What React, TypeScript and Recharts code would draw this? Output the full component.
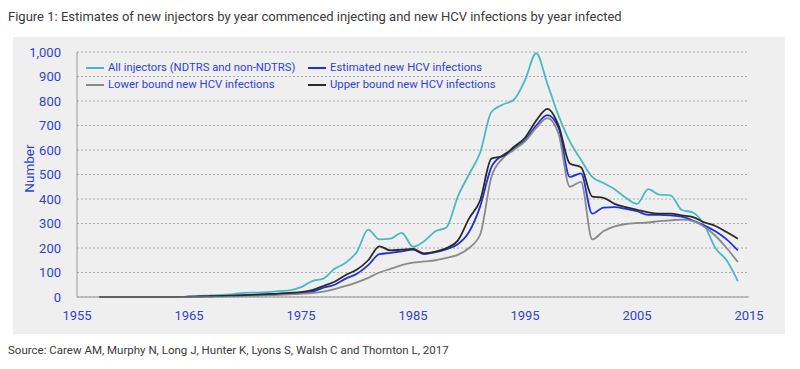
import React from 'react';
import { LineChart, Line, XAxis, YAxis, CartesianGrid, Legend } from 'recharts';

const years = [
  1957, 1958, 1959, 1960, 1961, 1962, 1963, 1964, 1965, 1966,
  1967, 1968, 1969, 1970, 1971, 1972, 1973, 1974, 1975, 1976,
  1977, 1978, 1979, 1980, 1981, 1982, 1983, 1984, 1985, 1986,
  1987, 1988, 1989, 1990, 1991, 1992, 1993, 1994, 1995, 1996,
  1997, 1998, 1999, 2000, 2001, 2002, 2003, 2004, 2005, 2006,
  2007, 2008, 2009, 2010, 2011, 2012, 2013, 2014,
];

const allInjectors = [
  0, 0, 0, 0, 0, 0, 0, 0, 1, 4,
  7, 9, 12, 17, 18, 20, 24, 27, 40, 65,
  75, 115, 140, 185, 275, 235, 238, 262, 205, 228,
  268, 285, 410, 500, 590, 755, 785, 805, 885, 995,
  870, 740, 635, 560, 490, 465, 440, 405, 380, 440,
  418, 415, 355, 345, 295, 200, 150, 65,
];

const estimated = [
  0, 0, 0, 0, 0, 0, 0, 0, 1, 2,
  3, 4, 5, 7, 9, 11, 13, 15, 18, 22,
  38, 50, 75, 95, 130, 175, 180, 186, 193, 175,
  183, 195, 215, 265, 370, 530, 578, 605, 640, 700,
  742, 690, 490, 505, 340, 365, 367, 360, 350, 335,
  335, 333, 328, 312, 292, 268, 235, 190,
];

const lowerBound = [
  0, 0, 0, 0, 0, 0, 0, 0, 0, 1,
  2, 2, 3, 4, 5, 7, 9, 11, 13, 16,
  22, 32, 45, 60, 78, 100, 115, 130, 140, 145,
  150, 160, 172, 200, 255, 490, 565, 600, 635, 690,
  730, 665, 450, 470, 235, 268, 288, 298, 302, 304,
  310, 313, 316, 310, 287, 250, 200, 143,
];

const upperBound = [
  0, 0, 0, 0, 0, 0, 0, 0, 1, 2,
  3, 4, 6, 8, 10, 12, 14, 17, 20, 28,
  45, 62, 90, 112, 150, 207, 190, 193, 196, 178,
  185, 200, 230, 320, 395, 565, 575, 612, 650, 720,
  768, 700, 545, 530, 410, 405, 380, 367, 356, 345,
  340, 340, 333, 326, 305, 290, 265, 238,
];

const xTicks = [1955, 1965, 1975, 1985, 1995, 2005, 2015];
const yTicks = [0, 100, 200, 300, 400, 500, 600, 700, 800, 900, 1000];

const data = years.map((year, i) => ({
  year,
  all: allInjectors[i],
  est: estimated[i],
  low: lowerBound[i],
  up: upperBound[i],
}));

const TEXT_BLUE = '#2f43d6';
const FONT = 'Roboto, "Noto Sans", sans-serif';

const series = [
  { key: 'all', name: 'All injectors (NDTRS and non-NDTRS)', color: '#4ab9c5' },
  { key: 'est', name: 'Estimated new HCV infections', color: '#1f30e0' },
  { key: 'low', name: 'Lower bound new HCV infections', color: '#8a8a8a' },
  { key: 'up', name: 'Upper bound new HCV infections', color: '#2a2a2a' },
];

// two-column legend, drawn in the same order as the original
const renderLegend = () => (
  <div style={{ display: 'grid', gridTemplateColumns: '222px 230px', rowGap: 3 }}>
    {series.map(s => (
      <div key={s.key} style={{ display: 'flex', alignItems: 'center', fontSize: 11.3, color: TEXT_BLUE, fontFamily: FONT, lineHeight: '14px', whiteSpace: 'nowrap' }}>
        <span style={{ display: 'inline-block', width: 18, height: 2, background: s.color, marginRight: 4 }} />
        {s.name}
      </div>
    ))}
  </div>
);

// rotated axis title, centred a little above the middle of the plot
const renderYLabel = (props: any) => {
  const vb = props.viewBox || {};
  const cx = (vb.x || 0) + 12;
  const cy = (vb.y || 0) + (vb.height || 0) / 2 - 6;
  return (
    <text
      x={cx}
      y={cy}
      transform={`rotate(-90 ${cx} ${cy})`}
      textAnchor="middle"
      dominantBaseline="central"
      fill={TEXT_BLUE}
      fontSize={13.5}
      fontFamily={FONT}
    >
      Number
    </text>
  );
};

const App: React.FC = () => {
  return (
    <div style={{ position: 'absolute', left: 0, top: 0, width: 800, height: 369, background: '#fff', fontFamily: FONT }}>
      <div style={{ position: 'absolute', left: 8, top: 9, fontSize: 13, color: '#3a3a3a', whiteSpace: 'nowrap' }}>
        Figure 1: Estimates of new injectors by year commenced injecting and new HCV infections by year infected
      </div>
      <div style={{ position: 'absolute', left: 13, top: 37, width: 772, height: 297, background: '#efefef' }} />
      <div style={{ position: 'absolute', left: 0, top: 0 }}>
        <LineChart width={800} height={369} data={data} margin={{ top: 52, right: 51, left: 17, bottom: 42 }}>
          <CartesianGrid horizontal vertical={false} stroke="#aaa" strokeDasharray="2 2" />
          <XAxis
            dataKey="year"
            type="number"
            domain={[1955, 2015]}
            ticks={xTicks}
            interval={0}
            height={30}
            axisLine={{ stroke: '#999' }}
            tickLine={false}
            tickMargin={8}
            tick={{ fill: TEXT_BLUE, fontSize: 13, fontFamily: FONT }}
          />
          <YAxis
            type="number"
            domain={[0, 1000]}
            ticks={yTicks}
            interval={0}
            width={60}
            axisLine={{ stroke: '#999' }}
            tickLine={false}
            tickMargin={10}
            tickFormatter={(v: number) => v.toLocaleString('en-US')}
            tick={{ fill: TEXT_BLUE, fontSize: 13, fontFamily: FONT }}
            label={renderYLabel}
          />
          <Legend
            layout="vertical"
            align="center"
            verticalAlign="middle"
            content={renderLegend}
            wrapperStyle={{ top: 61, left: 86, width: 460 }}
          />
          {series.map(s => (
            <Line
              key={s.key}
              type="monotone"
              dataKey={s.key}
              name={s.name}
              stroke={s.color}
              strokeWidth={1.8}
              dot={false}
              isAnimationActive={false}
            />
          ))}
        </LineChart>
      </div>
      <div style={{ position: 'absolute', left: 8, top: 343, fontSize: 11.5, color: '#3a3a3a', whiteSpace: 'nowrap' }}>
        Source: Carew AM, Murphy N, Long J, Hunter K, Lyons S, Walsh C and Thornton L, 2017
      </div>
    </div>
  );
};

export default App;
